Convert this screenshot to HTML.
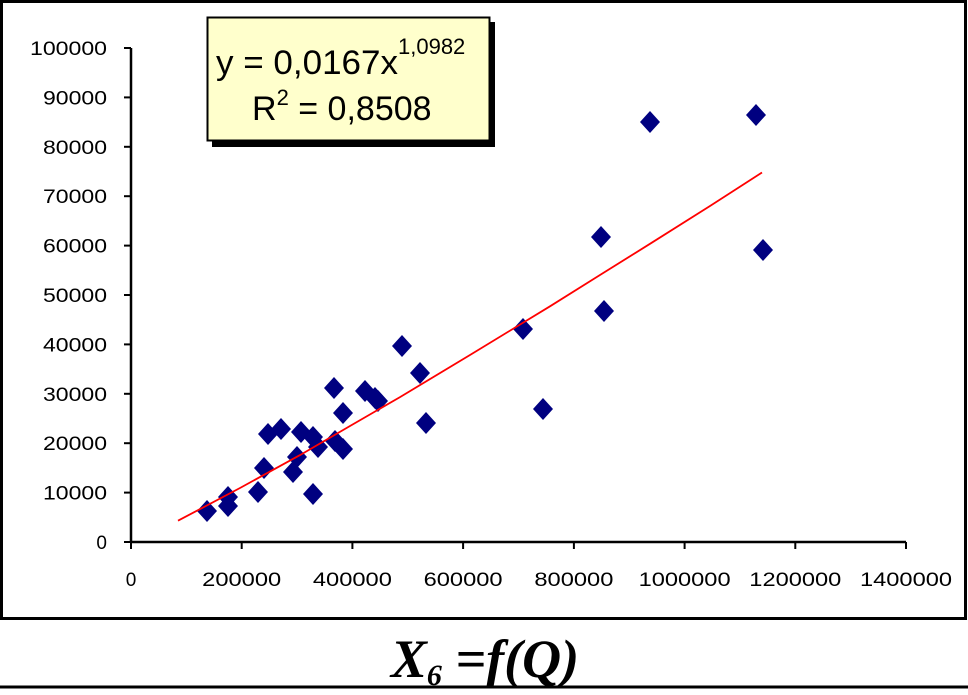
<!DOCTYPE html>
<html><head><meta charset="utf-8"><style>
body{margin:0;background:#fff;width:968px;height:690px;overflow:hidden}
</style></head><body>
<svg width="968" height="690" xmlns="http://www.w3.org/2000/svg" font-family="Liberation Sans, Arial, sans-serif">
<rect x="1.5" y="1.5" width="964" height="617" fill="#fff" stroke="#000" stroke-width="3"/>
<line x1="0" y1="687" x2="968" y2="687" stroke="#000" stroke-width="3"/>
<g stroke="#000" stroke-width="2.5">
<line x1="131" y1="48" x2="131" y2="543"/>
<line x1="130" y1="542" x2="906" y2="542"/>
</g>
<g stroke="#000" stroke-width="2">
<line x1="124" y1="48" x2="131" y2="48"/><line x1="124" y1="97.4" x2="131" y2="97.4"/>
<line x1="124" y1="146.8" x2="131" y2="146.8"/><line x1="124" y1="196.2" x2="131" y2="196.2"/>
<line x1="124" y1="245.6" x2="131" y2="245.6"/><line x1="124" y1="295" x2="131" y2="295"/>
<line x1="124" y1="344.4" x2="131" y2="344.4"/><line x1="124" y1="393.8" x2="131" y2="393.8"/>
<line x1="124" y1="443.2" x2="131" y2="443.2"/><line x1="124" y1="492.6" x2="131" y2="492.6"/>
<line x1="124" y1="542" x2="131" y2="542"/>
<line x1="131" y1="542" x2="131" y2="549"/><line x1="241.7" y1="542" x2="241.7" y2="549"/>
<line x1="352.4" y1="542" x2="352.4" y2="549"/><line x1="463.1" y1="542" x2="463.1" y2="549"/>
<line x1="573.9" y1="542" x2="573.9" y2="549"/><line x1="684.6" y1="542" x2="684.6" y2="549"/>
<line x1="795.3" y1="542" x2="795.3" y2="549"/><line x1="906" y1="542" x2="906" y2="549"/>
</g>
<g font-size="19" text-anchor="end" fill="#000" lengthAdjust="spacingAndGlyphs">
<text x="107" y="55" textLength="77" lengthAdjust="spacingAndGlyphs">100000</text>
<text x="107" y="104.4" textLength="64" lengthAdjust="spacingAndGlyphs">90000</text>
<text x="107" y="153.8" textLength="64" lengthAdjust="spacingAndGlyphs">80000</text>
<text x="107" y="203.2" textLength="64" lengthAdjust="spacingAndGlyphs">70000</text>
<text x="107" y="252.6" textLength="64" lengthAdjust="spacingAndGlyphs">60000</text>
<text x="107" y="302" textLength="64" lengthAdjust="spacingAndGlyphs">50000</text>
<text x="107" y="351.4" textLength="64" lengthAdjust="spacingAndGlyphs">40000</text>
<text x="107" y="400.8" textLength="64" lengthAdjust="spacingAndGlyphs">30000</text>
<text x="107" y="450.2" textLength="64" lengthAdjust="spacingAndGlyphs">20000</text>
<text x="107" y="499.6" textLength="64" lengthAdjust="spacingAndGlyphs">10000</text>
<text x="107" y="549">0</text>
</g>
<g font-size="19" text-anchor="middle" fill="#000">
<text x="131" y="586">0</text>
<text x="241.7" y="586" textLength="79" lengthAdjust="spacingAndGlyphs">200000</text>
<text x="352.4" y="586" textLength="79" lengthAdjust="spacingAndGlyphs">400000</text>
<text x="463.1" y="586" textLength="79" lengthAdjust="spacingAndGlyphs">600000</text>
<text x="573.9" y="586" textLength="79" lengthAdjust="spacingAndGlyphs">800000</text>
<text x="684.6" y="586" textLength="92" lengthAdjust="spacingAndGlyphs">1000000</text>
<text x="795.3" y="586" textLength="92" lengthAdjust="spacingAndGlyphs">1200000</text>
<text x="906" y="586" textLength="92" lengthAdjust="spacingAndGlyphs">1400000</text>
</g>
<g fill="#000080">
<path d="M0,-11 L10,0 L0,11 L-10,0Z" transform="translate(207,511)"/>
<path d="M0,-11 L10,0 L0,11 L-10,0Z" transform="translate(228,506)"/>
<path d="M0,-11 L10,0 L0,11 L-10,0Z" transform="translate(228,497)"/>
<path d="M0,-11 L10,0 L0,11 L-10,0Z" transform="translate(258,492)"/>
<path d="M0,-11 L10,0 L0,11 L-10,0Z" transform="translate(264,468)"/>
<path d="M0,-11 L10,0 L0,11 L-10,0Z" transform="translate(268,434)"/>
<path d="M0,-11 L10,0 L0,11 L-10,0Z" transform="translate(281,429)"/>
<path d="M0,-11 L10,0 L0,11 L-10,0Z" transform="translate(293,472)"/>
<path d="M0,-11 L10,0 L0,11 L-10,0Z" transform="translate(297,457)"/>
<path d="M0,-11 L10,0 L0,11 L-10,0Z" transform="translate(301,432)"/>
<path d="M0,-11 L10,0 L0,11 L-10,0Z" transform="translate(313,437)"/>
<path d="M0,-11 L10,0 L0,11 L-10,0Z" transform="translate(313,494)"/>
<path d="M0,-11 L10,0 L0,11 L-10,0Z" transform="translate(318,447)"/>
<path d="M0,-11 L10,0 L0,11 L-10,0Z" transform="translate(334,388)"/>
<path d="M0,-11 L10,0 L0,11 L-10,0Z" transform="translate(335,441)"/>
<path d="M0,-11 L10,0 L0,11 L-10,0Z" transform="translate(343,413)"/>
<path d="M0,-11 L10,0 L0,11 L-10,0Z" transform="translate(343,449)"/>
<path d="M0,-11 L10,0 L0,11 L-10,0Z" transform="translate(365,391)"/>
<path d="M0,-11 L10,0 L0,11 L-10,0Z" transform="translate(375,398)"/>
<path d="M0,-11 L10,0 L0,11 L-10,0Z" transform="translate(378,401)"/>
<path d="M0,-11 L10,0 L0,11 L-10,0Z" transform="translate(402,346)"/>
<path d="M0,-11 L10,0 L0,11 L-10,0Z" transform="translate(420,373)"/>
<path d="M0,-11 L10,0 L0,11 L-10,0Z" transform="translate(426,423)"/>
<path d="M0,-11 L10,0 L0,11 L-10,0Z" transform="translate(523,329)"/>
<path d="M0,-11 L10,0 L0,11 L-10,0Z" transform="translate(543,409)"/>
<path d="M0,-11 L10,0 L0,11 L-10,0Z" transform="translate(601,237)"/>
<path d="M0,-11 L10,0 L0,11 L-10,0Z" transform="translate(604,311)"/>
<path d="M0,-11 L10,0 L0,11 L-10,0Z" transform="translate(650,122)"/>
<path d="M0,-11 L10,0 L0,11 L-10,0Z" transform="translate(756,115)"/>
<path d="M0,-11 L10,0 L0,11 L-10,0Z" transform="translate(763,250)"/>
</g>
<polyline fill="none" stroke="#ff0000" stroke-width="1.8" points="178,520.7 240,488 300,455.1 350,426 400,397.1 470,355 550,306.3 600,275 650,243.8 710,206 762,172.5"/>
<rect x="212" y="22" width="283" height="125" fill="#000"/>
<rect x="207.5" y="17.5" width="282" height="123" fill="#ffffcc" stroke="#000" stroke-width="2"/>
<text x="216" y="74" font-size="34" fill="#000"><tspan textLength="182" lengthAdjust="spacingAndGlyphs">y = 0,0167x</tspan><tspan font-size="22" dy="-20">1,0982</tspan></text>
<text x="252" y="120" font-size="34" fill="#000">R<tspan font-size="22" dy="-15">2</tspan><tspan dy="15"> = 0,8508</tspan></text>
<text x="485" y="677" font-family="Liberation Serif, serif" font-weight="bold" font-style="italic" font-size="54" text-anchor="middle" fill="#000">X<tspan font-size="30" dy="8">6</tspan><tspan dy="-8"> =f(Q)</tspan></text>
</svg>
</body></html>
